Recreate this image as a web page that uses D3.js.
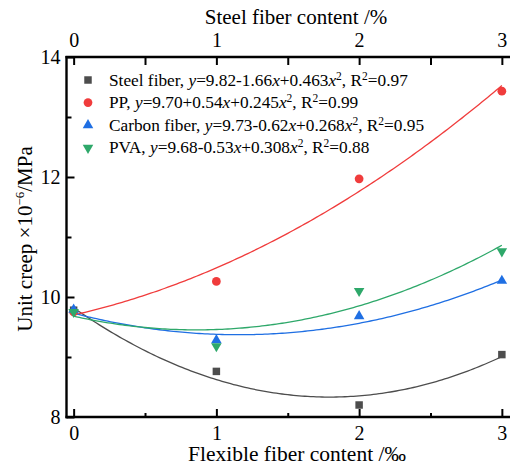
<!DOCTYPE html>
<html><head><meta charset="utf-8">
<script src="https://cdn.jsdelivr.net/npm/d3@7"></script>
</head><body style="margin:0"><svg id="c" width="512" height="466"></svg>
<script>
const xValues = [0, 1, 2, 3];
const seriesNames = ["Steel fiber", "PP", "Carbon fiber", "PVA"];
const steel = [9.78, 8.76, 8.20, 9.04];
const pp = [9.75, 10.26, 11.97, 13.43];
const carbon = [9.79, 9.28, 9.68, 10.27];
const pva = [9.75, 9.18, 10.10, 10.76];
// fit coefficients [a, b, c] from legend: y = a + b x + c x^2
const fitSteel = [9.82, -1.66, 0.463];
const fitPP = [9.70, 0.54, 0.245];
const fitCarbon = [9.73, -0.62, 0.268];
const fitPVA = [9.68, -0.53, 0.308];
const r2 = ["0.97", "0.99", "0.95", "0.88"];
const xTicks = [0, 1, 2, 3];
const yTicks = [8, 10, 12, 14];
const colors = ["#4d4d4d", "#f03c3c", "#1f6fe3", "#2ea86a"];

const FONT = '"Liberation Serif", monospace';
const svg = d3.select("#c");
const L = 66.5, R = 509, T = 57, B = 417;
const x = d3.scaleLinear().domain([-0.05, 3.05]).range([L, R]);
const y = d3.scaleLinear().domain([8, 14]).range([B, T]);

const data = [steel, pp, carbon, pva];
const fits = [fitSteel, fitPP, fitCarbon, fitPVA];

// fit curves
const samples = d3.range(0, 3.0001, 0.02);
const line = d3.line().x(d => x(d[0])).y(d => y(d[1]));
fits.forEach((f, i) => {
  svg.append("path")
    .attr("d", line(samples.map(t => [t, f[0] + f[1]*t + f[2]*t*t])))
    .attr("fill", "none").attr("stroke", colors[i]).attr("stroke-width", 1.3);
});

// markers
const sym = [d3.symbolSquare, d3.symbolCircle, d3.symbolTriangle, d3.symbolTriangle];
const symSize = [56, 60, 48, 48];
function marker(g, i, cx, cy) {
  g.append("path")
    .attr("d", d3.symbol().type(sym[i]).size(symSize[i])())
    .attr("transform", `translate(${cx},${cy})` + (i === 3 ? " rotate(180)" : ""))
    .attr("fill", colors[i]);
}
data.forEach((s, i) => {
  s.forEach((v, j) => marker(svg, i, x(xValues[j]), y(v)));
});

// axes
const axStroke = 2.4;
const gBottom = svg.append("g").attr("transform", `translate(0,${B})`)
  .call(d3.axisBottom(x).tickValues(xTicks).tickSize(-8).tickFormat(d3.format("d")));
const gBottomMinor = svg.append("g").attr("transform", `translate(0,${B})`)
  .call(d3.axisBottom(x).tickValues([0.5, 1.5, 2.5]).tickSize(-4).tickFormat(""));
const gTop = svg.append("g").attr("transform", `translate(0,${T})`)
  .call(d3.axisTop(x).tickValues(xTicks).tickSize(-8).tickFormat(d3.format("d")));
const gTopMinor = svg.append("g").attr("transform", `translate(0,${T})`)
  .call(d3.axisTop(x).tickValues([0.5, 1.5, 2.5]).tickSize(-8).tickFormat(""));
const gLeft = svg.append("g").attr("transform", `translate(${L},0)`)
  .call(d3.axisLeft(y).tickValues(yTicks).tickSize(-8).tickFormat(d3.format("d")));
const gLeftMinor = svg.append("g").attr("transform", `translate(${L},0)`)
  .call(d3.axisLeft(y).tickValues([9, 11, 13]).tickSize(-5).tickFormat(""));

[gBottom, gBottomMinor, gTop, gTopMinor, gLeft, gLeftMinor].forEach(g => {
  g.attr("font-family", "Liberation Serif");
  g.select(".domain").remove();
  g.selectAll("line").attr("stroke", "#000").attr("stroke-width", 2);
  g.selectAll("text").attr("font-size", 20).attr("fill", "#000");
});
gBottom.selectAll("text").attr("dy", null).attr("y", 23);
gTop.selectAll("text").attr("y", -10.5);
gLeft.selectAll("text").attr("x", -6).attr("dy", "0.34em");

// frame: left, bottom, top lines
svg.append("line").attr("x1", L).attr("x2", L).attr("y1", T - 1).attr("y2", B + 1.2).attr("stroke", "#000").attr("stroke-width", axStroke);
svg.append("line").attr("x1", L - 1).attr("x2", R + 1).attr("y1", B).attr("y2", B).attr("stroke", "#000").attr("stroke-width", axStroke);
svg.append("line").attr("x1", L - 1).attr("x2", R + 1).attr("y1", T).attr("y2", T).attr("stroke", "#000").attr("stroke-width", axStroke);

// axis titles
svg.append("text").attr("x", 297).attr("y", 461).attr("text-anchor", "middle")
  .attr("font-size", 21.5).text("Flexible fiber content /‰");
svg.append("text").attr("x", 296).attr("y", 24).attr("text-anchor", "middle")
  .attr("font-size", 21).text("Steel fiber content /%");
const yt = svg.append("text").attr("transform", `translate(32,${(T + B) / 2 + 2}) rotate(-90)`)
  .attr("text-anchor", "middle").attr("font-size", 21);
yt.append("tspan").text("Unit creep ×10");
yt.append("tspan").attr("dy", -8).attr("font-size", 13).text("−6");
yt.append("tspan").attr("dy", 8).text("/MPa");

// legend
const lx = 88, ly0 = 80, ldy = 22.6;
fits.forEach((f, i) => {
  const cy = ly0 + i * ldy;
  marker(svg, i, lx, cy);
  const t = svg.append("text").attr("x", 109).attr("y", cy + 5.5).attr("font-size", 17.3).attr("fill", "#000");
  const fmt = v => v.toFixed(2);
  const b = f[1];
  t.append("tspan").text(seriesNames[i] + ", ");
  t.append("tspan").attr("font-style", "italic").text("y");
  t.append("tspan").text("=" + fmt(f[0]) + (b < 0 ? "-" : "+") + Math.abs(b).toFixed(2));
  t.append("tspan").attr("font-style", "italic").text("x");
  t.append("tspan").text("+" + f[2].toFixed(3));
  t.append("tspan").attr("font-style", "italic").text("x");
  t.append("tspan").attr("dy", -6).attr("font-size", 11.5).text("2");
  t.append("tspan").attr("dy", 6).text(", R");
  t.append("tspan").attr("dy", -6).attr("font-size", 11.5).text("2");
  t.append("tspan").attr("dy", 6).text("=" + r2[i]);
});

svg.selectAll("text").style("font-family", FONT);
</script></body></html>
